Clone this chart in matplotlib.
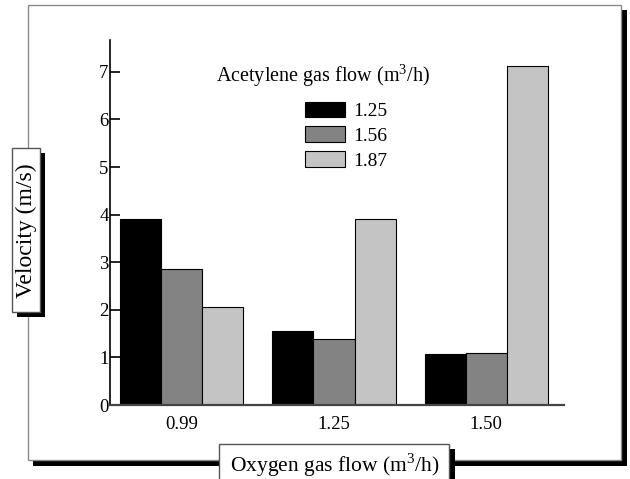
import numpy as np
import matplotlib.pyplot as plt
import matplotlib.patches as mpatches

plt.rcParams['font.family'] = ['Liberation Serif', 'DejaVu Serif']
plt.rcParams['mathtext.fontset'] = 'custom'
plt.rcParams['mathtext.rm'] = 'Liberation Serif'

# oxygen flow groups, acetylene flow series
oxygen = ['0.99', '1.25', '1.50']
acetylene = ['1.25', '1.56', '1.87']
vel_125 = [3.90, 1.56, 1.08]
vel_156 = [2.86, 1.39, 1.09]
vel_187 = [2.05, 3.90, 7.13]
bar_colors = ['#000000', '#838383', '#c4c4c4']

W, H = 630, 479
fig = plt.figure(figsize=(W / 100, H / 100), dpi=100)

def px_rect(x0, y0, x1, y1, **kw):
    # rectangle given in image pixels (top-left origin)
    r = mpatches.Rectangle((x0 / W, 1 - y1 / H), (x1 - x0) / W, (y1 - y0) / H,
                           transform=fig.transFigure, **kw)
    fig.patches.append(r)
    return r

# outer frame with shadow
px_rect(33, 10, 627, 466, facecolor='black', edgecolor='none', zorder=-5)
px_rect(28, 5, 621, 460, facecolor='white', edgecolor='#8a8a8a', lw=1, zorder=-4)

ax = fig.add_axes([110 / W, 1 - 405 / H, 454 / W, 365 / H])
ax.patch.set_alpha(0)

x = np.arange(len(oxygen))
bw = 0.27
series = [vel_125, vel_156, vel_187]
for i, vals in enumerate(series):
    ax.bar(x + (i - 1) * bw, vals, bw, color=bar_colors[i], edgecolor='black',
           linewidth=0.8, label=acetylene[i])

ax.set_xlim(-0.47, 2.51)
ax.set_ylim(0, 7.67)
ax.set_yticks(range(8))
ax.set_xticks(x)
ax.set_xticklabels(oxygen)
ax.tick_params(axis='y', direction='in', length=7, width=1.2, labelsize=13.5, pad=1)
ax.tick_params(axis='x', length=0, labelsize=13.5, pad=8)
for s in ['top', 'right']:
    ax.spines[s].set_visible(False)
ax.spines['left'].set_linewidth(1.2)
ax.spines['bottom'].set_linewidth(1.6)
ax.spines['bottom'].set_color('#444444')

# legend
fig.text(323 / W, 1 - 76 / H, 'Acetylene gas flow (m$^3$/h)', ha='center', va='center',
         fontsize=14.5)
leg = ax.legend(loc='upper left', bbox_to_anchor=(291 / W, 1 - 88 / H),
                bbox_transform=fig.transFigure, frameon=False, fontsize=14,
                handlelength=2.06, handleheight=0.87, labelspacing=0.32,
                handletextpad=0.45, borderpad=0.2)

# y label box
px_rect(17, 153, 45, 317, facecolor='black', edgecolor='none', zorder=-3)
px_rect(12, 148, 40, 312, facecolor='white', edgecolor='#555555', lw=1, zorder=-2)
fig.text(26 / W, 1 - 231 / H, 'Velocity (m/s)', rotation=90, ha='center', va='center',
         fontsize=17)

# x label box
px_rect(224, 449, 455, 485, facecolor='black', edgecolor='none', zorder=-3)
px_rect(219, 444, 449, 482, facecolor='white', edgecolor='#555555', lw=1, zorder=-2)
fig.text(335 / W, 1 - 465 / H, 'Oxygen gas flow (m$^3$/h)', ha='center', va='center',
         fontsize=15.5)

fig.savefig('out.png', dpi=100)
